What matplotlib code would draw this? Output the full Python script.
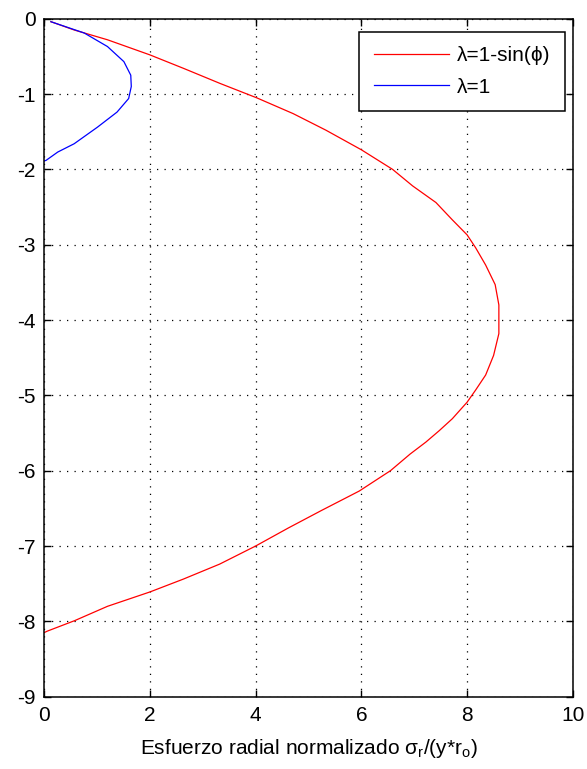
import matplotlib
matplotlib.use('Agg')
import matplotlib.pyplot as plt

plt.rcParams['font.family'] = ['Liberation Sans', 'DejaVu Sans']
plt.rcParams['mathtext.default'] = 'regular'
plt.rcParams['axes.unicode_minus'] = False

# curva lambda = 1 - sin(phi): esfuerzo normalizado (x) vs profundidad (y)
RED_X = [0.13, 0.57, 1.20, 2.0, 2.64, 3.33, 4.02, 4.71, 5.33, 6.0, 6.59, 6.97, 7.41, 7.72,
         8.0, 8.16, 8.35, 8.53, 8.60, 8.60, 8.50, 8.35, 8.16, 8.0, 7.72, 7.47, 7.22, 6.92,
         6.55, 5.96, 5.24, 4.62, 4.0, 3.32, 2.63, 2.0, 1.20, 0.58, 0.06, 0]
RED_Y = [-0.04, -0.15, -0.28, -0.48, -0.66, -0.86, -1.05, -1.26, -1.48, -1.74, -2.0, -2.22, -2.44, -2.67,
         -2.87, -3.04, -3.27, -3.53, -3.80, -4.18, -4.47, -4.73, -4.93, -5.09, -5.31, -5.47, -5.62, -5.78,
         -6.0, -6.27, -6.53, -6.76, -7.0, -7.24, -7.44, -7.61, -7.80, -7.99, -8.13, -8.15]

# curva lambda = 1
BLUE_X = [0.13, 0.76, 1.20, 1.51, 1.64, 1.65, 1.60, 1.38, 1.01, 0.57, 0.26, 0.04, 0]
BLUE_Y = [-0.04, -0.19, -0.37, -0.57, -0.75, -0.90, -1.06, -1.24, -1.44, -1.66, -1.77, -1.88, -1.89]

LABELS = ['λ=1-sin(ϕ)', 'λ=1']

fig = plt.figure(figsize=(5.87, 7.69), dpi=100)
ax = fig.add_axes([0.075, 0.094, 0.901, 0.8817])

ax.plot(RED_X, RED_Y, color='#ff0000', lw=0.9, label=LABELS[0])
ax.plot(BLUE_X, BLUE_Y, color='#0000ff', lw=0.9, label=LABELS[1])

ax.set_xlim(0, 10)
ax.set_ylim(-9, 0)
ax.set_xticks(range(0, 11, 2))
ax.set_yticks(range(-9, 1))
ax.grid(True, color='black', linestyle=(0, (1, 5)), linewidth=0.9)
ax.tick_params(direction='in', length=5, width=1, top=True, right=True,
               labelsize=15)
ax.tick_params(axis='x', pad=7)
ax.tick_params(axis='y', pad=6)
for s in ax.spines.values():
    s.set_linewidth(1.1)

ax.set_xlabel('Esfuerzo radial normalizado $\\sigma_r$/(y*r$_o$)', fontsize=15, labelpad=8)

leg = ax.legend(loc='upper right', bbox_to_anchor=(0.985, 0.981), borderaxespad=0,
                fontsize=15, fancybox=False, framealpha=1, edgecolor='black',
                handlelength=3.6, handletextpad=0.4, borderpad=0.7, labelspacing=0.6)
leg.get_frame().set_linewidth(1.1)

fig.savefig('out.png', dpi=100)
